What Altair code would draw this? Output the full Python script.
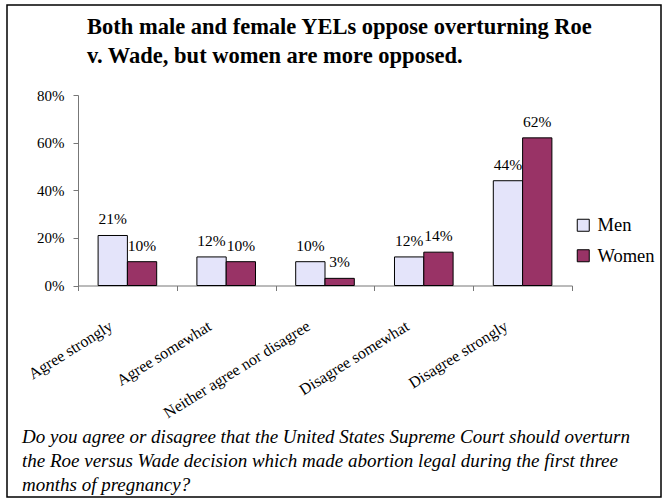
import altair as alt
import pandas as pd

categories = ["Agree strongly", "Agree somewhat", "Neither agree nor disagree",
              "Disagree somewhat", "Disagree strongly"]
series = ["Men", "Women"]
men_values = [0.21, 0.12, 0.10, 0.12, 0.44]
women_values = [0.10, 0.10, 0.03, 0.14, 0.62]
colors = ["#E4E4FA", "#993366"]
title_lines = ["Both male and female YELs oppose overturning Roe",
               "v. Wade, but women are more opposed."]
footnote_lines = ["Do you agree or disagree that the United States Supreme Court should overturn",
                  " the Roe versus Wade decision which made abortion legal during the first three",
                  "months of pregnancy?"]

rows = []
for c, m, w in zip(categories, men_values, women_values):
    rows.append({"category": c, "series": "Men", "value": m})
    rows.append({"category": c, "series": "Women", "value": w})
df = pd.DataFrame(rows)

FONT = "Times New Roman, Liberation Serif, serif"
AX = "#777777"

x_enc = alt.X("category:N", sort=categories, title=None,
              scale=alt.Scale(paddingInner=0, paddingOuter=0),
              axis=alt.Axis(labelAngle=-32, labelAlign="right", labelBaseline="top",
                            labelOffset=-21, labelPadding=27, tickBand="extent",
                            tickSize=5, domainColor=AX, tickColor=AX,
                            labelFont=FONT, labelFontSize=16, labelColor="black"))
xoff_enc = alt.XOffset("series:N", sort=series,
                       scale=alt.Scale(paddingInner=0, paddingOuter=0.686))
y_enc = alt.Y("value:Q", title=None,
              scale=alt.Scale(domain=[0, 0.8], nice=False),
              axis=alt.Axis(values=[0, 0.2, 0.4, 0.6, 0.8], format=".0%", grid=False,
                            tickSize=5, labelPadding=9, domainColor=AX, tickColor=AX,
                            labelFont=FONT, labelFontSize=15, labelColor="black"))

base = alt.Chart(df)

bars = base.mark_bar(stroke="black", strokeWidth=1).encode(
    x=x_enc, xOffset=xoff_enc, y=y_enc,
    color=alt.Color("series:N", sort=series, title=None,
                    scale=alt.Scale(domain=series, range=colors),
                    legend=alt.Legend(orient="none", legendX=496, legendY=121,
                                      symbolType="square", symbolSize=144,
                                      symbolStrokeColor="black", symbolStrokeWidth=1,
                                      labelFont=FONT, labelFontSize=18.5, labelColor="black",
                                      labelOffset=5, rowPadding=11.5, padding=0)),
)

labels = base.mark_text(font=FONT, fontSize=15.5, baseline="alphabetic", dy=-11,
                        color="black").encode(
    x=alt.X("category:N", sort=categories),
    xOffset=alt.XOffset("series:N", sort=series),
    y="value:Q",
    text=alt.Text("value:Q", format=".0%"),
)

title = alt.Chart(alt.Data(values=[{}])).mark_text(
    text=title_lines, font=FONT, fontSize=22.5, fontWeight="bold", align="left",
    baseline="alphabetic", lineHeight=29, color="black"
).encode(x=alt.value(9), y=alt.value(-61))

footnote = alt.Chart(alt.Data(values=[{}])).mark_text(
    text=footnote_lines, font=FONT, fontSize=19, fontStyle="italic", align="left",
    baseline="alphabetic", lineHeight=24, color="black"
).encode(x=alt.value(-56), y=alt.value(348))

frame = alt.Chart(alt.Data(values=[{}])).mark_rect(
    fill=None, filled=False, stroke="black", strokeWidth=1.5
).encode(x=alt.value(-71), x2=alt.value(583), y=alt.value(-90), y2=alt.value(402))

chart = alt.layer(bars, labels, title, footnote, frame).properties(
    width=494, height=190.5, autosize="none",
    padding={"left": 78, "top": 95, "right": 91, "bottom": 213},
    background="white",
).configure_view(stroke=None)

chart.save("out.html", embed_options={"renderer": "svg", "actions": False})
